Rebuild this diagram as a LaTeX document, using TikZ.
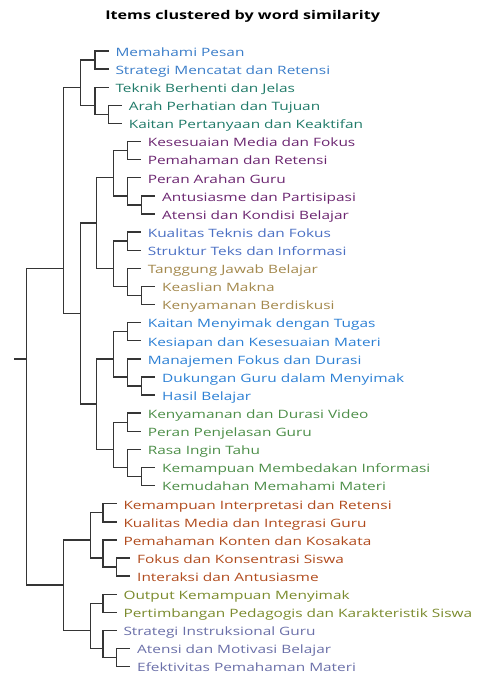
\documentclass[tikz,border=0pt]{standalone}
\usepackage{fontspec}
\setmainfont{Open Sans}[FakeStretch=1.34]
\usepackage{xcolor}

\definecolor{linegray}{HTML}{353535}
\definecolor{pesanblue}{HTML}{3A7DC9}
\definecolor{tealgreen}{HTML}{1F7A68}
\definecolor{plum}{HTML}{6B2570}
\definecolor{periwinkle}{HTML}{4A6FC3}
\definecolor{tan}{HTML}{A3884C}
\definecolor{skyblue}{HTML}{2B7FD4}
\definecolor{leafgreen}{HTML}{4C8E48}
\definecolor{rust}{HTML}{B04A1C}
\definecolor{olive}{HTML}{7A8A2C}
\definecolor{slate}{HTML}{6A6FA8}

\tikzset{
    branch/.style={draw=linegray, line width=1.4pt},
    leaf/.style={anchor=west, inner xsep=6.8pt, inner ysep=0pt,
        text height=10.6pt, text depth=0pt,
        font=\fontsize{11.5}{13}\selectfont},
}

\begin{document}
\begin{tikzpicture}[x=1pt, y=-1pt]
            \useasboundingbox (0,0) rectangle (481,675);
            \node[font=\fontsize{12.05}{14}\selectfont\bfseries] (title) at (242.7,16)
                {Items clustered by word similarity};
            % merge points
            \coordinate (rootend) at (14,358.8);
            \coordinate (root) at (26.7,358.8);
            \coordinate (X) at (63.3,268.3);
            \coordinate (Y) at (63.3,585.1);
            \coordinate (A) at (80.7,87.2);
            \coordinate (A1) at (95,60.05);
            \coordinate (A2) at (95,105.3);
            \coordinate (A3) at (108.3,114.4);
            \coordinate (B) at (80.7,313.5);
            \coordinate (B1) at (96.7,223.0);
            \coordinate (B2) at (96.7,404.1);
            \coordinate (C) at (113.3,177.7);
            \coordinate (C1) at (127.3,150.6);
            \coordinate (C2) at (127.3,195.8);
            \coordinate (C3) at (141.7,204.9);
            \coordinate (D) at (113.3,268.3);
            \coordinate (D1) at (127.3,241.1);
            \coordinate (D2) at (127.3,286.4);
            \coordinate (D3) at (141.7,295.4);
            \coordinate (E) at (113.3,358.8);
            \coordinate (E1) at (127.3,331.6);
            \coordinate (E2) at (127.3,376.9);
            \coordinate (E3) at (141.7,385.9);
            \coordinate (F) at (113.3,449.3);
            \coordinate (F1) at (127.3,422.2);
            \coordinate (F2) at (127.3,467.4);
            \coordinate (F3) at (141.7,476.5);
            \coordinate (G) at (90.5,539.9);
            \coordinate (G1) at (103,512.7);
            \coordinate (G2) at (103,558.0);
            \coordinate (G3) at (116.7,567.1);
            \coordinate (H) at (90.5,630.4);
            \coordinate (H1) at (103,603.2);
            \coordinate (H2) at (103,648.5);
            \coordinate (H3) at (116.7,657.5);
            % leaves
            \node[leaf, pesanblue] (pesan) at (108.5,51.0) {Memahami Pesan};
            \node[leaf, pesanblue] (mencatat) at (108.5,69.1) {Strategi Mencatat dan Retensi};
            \node[leaf, tealgreen] (berhenti) at (108.5,87.2) {Teknik Berhenti dan Jelas};
            \node[leaf, tealgreen] (arah) at (121.8,105.3) {Arah Perhatian dan Tujuan};
            \node[leaf, tealgreen] (keaktifan) at (121.8,123.4) {Kaitan Pertanyaan dan Keaktifan};
            \node[leaf, plum] (kesesuaian) at (140.8,141.5) {Kesesuaian Media dan Fokus};
            \node[leaf, plum] (pemahaman) at (140.8,159.6) {Pemahaman dan Retensi};
            \node[leaf, plum] (arahan) at (140.8,177.7) {Peran Arahan Guru};
            \node[leaf, plum] (antusiasme) at (155.2,195.8) {Antusiasme dan Partisipasi};
            \node[leaf, plum] (kondisi) at (155.2,214.0) {Atensi dan Kondisi Belajar};
            \node[leaf, periwinkle] (teknis) at (140.8,232.1) {Kualitas Teknis dan Fokus};
            \node[leaf, periwinkle] (struktur) at (140.8,250.2) {Struktur Teks dan Informasi};
            \node[leaf, tan] (tanggung) at (140.8,268.3) {Tanggung Jawab Belajar};
            \node[leaf, tan] (keaslian) at (155.2,286.4) {Keaslian Makna};
            \node[leaf, tan] (berdiskusi) at (155.2,304.5) {Kenyamanan Berdiskusi};
            \node[leaf, skyblue] (tugas) at (140.8,322.6) {Kaitan Menyimak dengan Tugas};
            \node[leaf, skyblue] (kesiapan) at (140.8,340.7) {Kesiapan dan Kesesuaian Materi};
            \node[leaf, skyblue] (manajemen) at (140.8,358.8) {Manajemen Fokus dan Durasi};
            \node[leaf, skyblue] (dukungan) at (155.2,376.9) {Dukungan Guru dalam Menyimak};
            \node[leaf, skyblue] (hasil) at (155.2,395.0) {Hasil Belajar};
            \node[leaf, leafgreen] (video) at (140.8,413.1) {Kenyamanan dan Durasi Video};
            \node[leaf, leafgreen] (penjelasan) at (140.8,431.2) {Peran Penjelasan Guru};
            \node[leaf, leafgreen] (ingintahu) at (140.8,449.3) {Rasa Ingin Tahu};
            \node[leaf, leafgreen] (membedakan) at (155.2,467.4) {Kemampuan Membedakan Informasi};
            \node[leaf, leafgreen] (kemudahan) at (155.2,485.5) {Kemudahan Memahami Materi};
            \node[leaf, rust] (interpretasi) at (116.5,503.7) {Kemampuan Interpretasi dan Retensi};
            \node[leaf, rust] (integrasi) at (116.5,521.8) {Kualitas Media dan Integrasi Guru};
            \node[leaf, rust] (kosakata) at (116.5,539.9) {Pemahaman Konten dan Kosakata};
            \node[leaf, rust] (konsentrasi) at (130.2,558.0) {Fokus dan Konsentrasi Siswa};
            \node[leaf, rust] (interaksi) at (130.2,576.1) {Interaksi dan Antusiasme};
            \node[leaf, olive] (output) at (116.5,594.2) {Output Kemampuan Menyimak};
            \node[leaf, olive] (pedagogis) at (116.5,612.3) {Pertimbangan Pedagogis dan Karakteristik Siswa};
            \node[leaf, slate] (instruksional) at (116.5,630.4) {Strategi Instruksional Guru};
            \node[leaf, slate] (motivasi) at (130.2,648.5) {Atensi dan Motivasi Belajar};
            \node[leaf, slate] (efektivitas) at (130.2,666.6) {Efektivitas Pemahaman Materi};
            % branches
            \draw[branch] (rootend) -- (root);
            \draw[branch] (root) |- (X) (root) |- (Y);
            \draw[branch] (X) |- (A) (X) |- (B);
            \draw[branch] (A) |- (A1) (A) |- (A2);
            \draw[branch] (A1) |- (pesan.west) (A1) |- (mencatat.west);
            \draw[branch] (A2) |- (berhenti.west) (A2) |- (A3);
            \draw[branch] (A3) |- (arah.west) (A3) |- (keaktifan.west);
            \draw[branch] (B) |- (B1) (B) |- (B2);
            \draw[branch] (B1) |- (C) (B1) |- (D);
            \draw[branch] (C) |- (C1) (C) |- (C2);
            \draw[branch] (C1) |- (kesesuaian.west) (C1) |- (pemahaman.west);
            \draw[branch] (C2) |- (arahan.west) (C2) |- (C3);
            \draw[branch] (C3) |- (antusiasme.west) (C3) |- (kondisi.west);
            \draw[branch] (D) |- (D1) (D) |- (D2);
            \draw[branch] (D1) |- (teknis.west) (D1) |- (struktur.west);
            \draw[branch] (D2) |- (tanggung.west) (D2) |- (D3);
            \draw[branch] (D3) |- (keaslian.west) (D3) |- (berdiskusi.west);
            \draw[branch] (B2) |- (E) (B2) |- (F);
            \draw[branch] (E) |- (E1) (E) |- (E2);
            \draw[branch] (E1) |- (tugas.west) (E1) |- (kesiapan.west);
            \draw[branch] (E2) |- (manajemen.west) (E2) |- (E3);
            \draw[branch] (E3) |- (dukungan.west) (E3) |- (hasil.west);
            \draw[branch] (F) |- (F1) (F) |- (F2);
            \draw[branch] (F1) |- (video.west) (F1) |- (penjelasan.west);
            \draw[branch] (F2) |- (ingintahu.west) (F2) |- (F3);
            \draw[branch] (F3) |- (membedakan.west) (F3) |- (kemudahan.west);
            \draw[branch] (Y) |- (G) (Y) |- (H);
            \draw[branch] (G) |- (G1) (G) |- (G2);
            \draw[branch] (G1) |- (interpretasi.west) (G1) |- (integrasi.west);
            \draw[branch] (G2) |- (kosakata.west) (G2) |- (G3);
            \draw[branch] (G3) |- (konsentrasi.west) (G3) |- (interaksi.west);
            \draw[branch] (H) |- (H1) (H) |- (H2);
            \draw[branch] (H1) |- (output.west) (H1) |- (pedagogis.west);
            \draw[branch] (H2) |- (instruksional.west) (H2) |- (H3);
            \draw[branch] (H3) |- (motivasi.west) (H3) |- (efektivitas.west);
        \end{tikzpicture}
\end{document}
